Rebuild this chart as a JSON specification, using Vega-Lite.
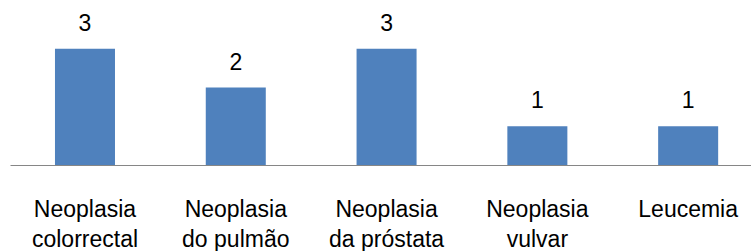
{
  "$schema": "https://vega.github.io/schema/vega-lite/v6.json",
  "width": 741,
  "height": 155,
  "padding": {"left": 10, "top": 10, "right": 0, "bottom": 0},
  "autosize": {"type": "pad"},
  "background": "white",
  "config": {"view": {"stroke": null}, "font": "Liberation Sans"},
  "data": {
    "values": [
      {"categoria": "Neoplasia colorrectal", "casos": 3},
      {"categoria": "Neoplasia do pulmão", "casos": 2},
      {"categoria": "Neoplasia da próstata", "casos": 3},
      {"categoria": "Neoplasia vulvar", "casos": 1},
      {"categoria": "Leucemia", "casos": 1}
    ]
  },
  "encoding": {
    "x": {
      "field": "categoria",
      "type": "nominal",
      "sort": null,
      "scale": {"paddingInner": 0.602, "paddingOuter": 0.258, "align": 0.578},
      "axis": {
        "title": null,
        "labelAngle": 0,
        "ticks": false,
        "domainColor": "#868686",
        "domainWidth": 1,
        "labelFont": "Liberation Sans",
        "labelFontSize": 23,
        "labelColor": "#000000",
        "labelPadding": 33,
        "labelLineHeight": 30,
        "labelBaseline": "top",
        "labelExpr": "indexof(datum.label, ' ') > 0 ? [substring(datum.label, 0, indexof(datum.label, ' ')), substring(datum.label, indexof(datum.label, ' ') + 1)] : datum.label"
      }
    },
    "y": {
      "field": "casos",
      "type": "quantitative",
      "scale": {"domain": [0, 4]},
      "axis": null
    }
  },
  "layer": [
    {"mark": {"type": "bar", "color": "#4F81BD"}},
    {
      "mark": {"type": "text", "baseline": "alphabetic", "dy": -18, "fontSize": 23, "font": "Liberation Sans", "color": "#000000"},
      "encoding": {"text": {"field": "casos", "type": "quantitative"}}
    }
  ]
}
